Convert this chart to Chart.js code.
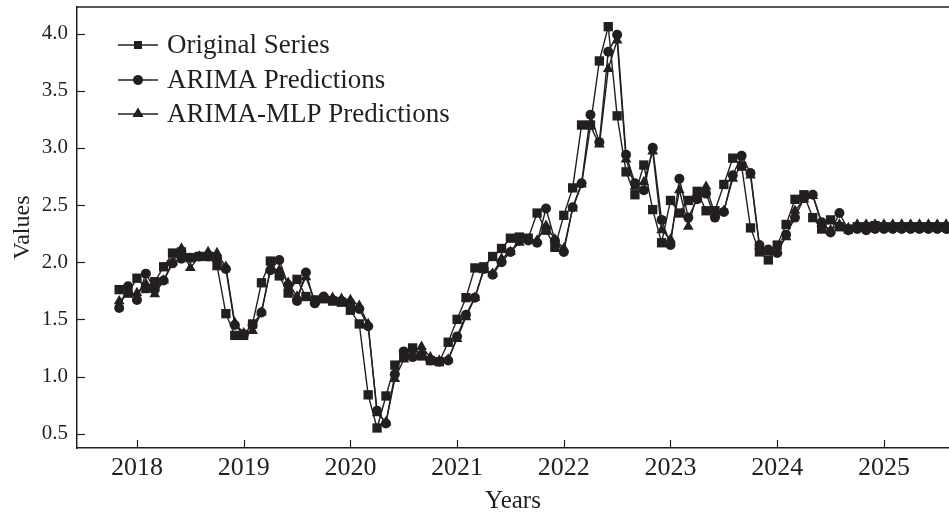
<!DOCTYPE html>
<html>
<head>
<meta charset="utf-8">
<script src="https://cdn.jsdelivr.net/npm/chart.js@4.4.1/dist/chart.umd.min.js"></script>
<style>
  html, body { margin: 0; padding: 0; background: #ffffff; }
  #wrap { width: 949px; height: 516px; position: relative; }
</style>
</head>
<body>
<div id="wrap"><canvas id="chart" width="949" height="516"></canvas></div>
<script>
// Monthly observations, first month November 2017
const firstYear = 2017;
const firstMonth = 11;

const originalSeries = [
  1.76, 1.73, 1.86, 1.77, 1.83, 1.96, 2.08, 2.09, 2.04, 2.05, 2.05, 1.97,
  1.55, 1.36, 1.36, 1.46, 1.82, 2.01, 1.88, 1.73, 1.85, 1.70, 1.67, 1.68,
  1.66, 1.65, 1.58, 1.46, 0.84, 0.55, 0.83, 1.10, 1.17, 1.25, 1.18, 1.14,
  1.13, 1.30, 1.50, 1.69, 1.95, 1.96, 2.05, 2.12, 2.21, 2.22, 2.21, 2.43,
  2.28, 2.13, 2.41, 2.65, 3.20, 3.20, 3.76, 4.06, 3.28, 2.79, 2.59, 2.85,
  2.46, 2.17, 2.54, 2.43, 2.54, 2.62, 2.45, 2.45, 2.68, 2.91, 2.84, 2.30,
  2.09, 2.02, 2.15, 2.33, 2.55, 2.59, 2.39, 2.29, 2.37, 2.31, 2.29, 2.31,
  2.31, 2.32, 2.31, 2.31, 2.31, 2.31, 2.31, 2.31, 2.31, 2.31
];

const arimaPredictions = [
  1.60, 1.79, 1.67, 1.90, 1.76, 1.84, 1.99, 2.03, 2.04, 2.05, 2.05, 2.04,
  1.94, 1.45, 1.37, 1.45, 1.56, 1.93, 2.02, 1.80, 1.66, 1.91, 1.64, 1.70,
  1.67, 1.66, 1.64, 1.59, 1.44, 0.70, 0.59, 1.02, 1.22, 1.17, 1.19, 1.14,
  1.13, 1.14, 1.35, 1.54, 1.69, 1.94, 1.89, 2.00, 2.09, 2.19, 2.19, 2.17,
  2.47, 2.19, 2.09, 2.48, 2.69, 3.29, 3.05, 3.84, 3.99, 2.94, 2.69, 2.63,
  3.00, 2.37, 2.15, 2.73, 2.39, 2.55, 2.60, 2.39, 2.44, 2.76, 2.93, 2.78,
  2.15, 2.11, 2.08, 2.24, 2.39, 2.56, 2.59, 2.35, 2.26, 2.43, 2.28, 2.29,
  2.28, 2.29, 2.29, 2.29, 2.29, 2.29, 2.29, 2.29, 2.29, 2.29
];

const arimaMlpPredictions = [
  1.66, 1.72, 1.73, 1.81, 1.72, 1.84, 2.00, 2.12, 1.95, 2.05, 2.09, 2.08,
  1.96, 1.47, 1.38, 1.40, 1.56, 1.94, 1.93, 1.82, 1.70, 1.87, 1.66, 1.67,
  1.69, 1.68, 1.67, 1.62, 1.46, 0.68, 0.60, 0.98, 1.15, 1.20, 1.26, 1.17,
  1.14, 1.15, 1.33, 1.52, 1.69, 1.93, 1.90, 2.03, 2.09, 2.17, 2.20, 2.19,
  2.32, 2.20, 2.12, 2.47, 2.68, 3.19, 3.03, 3.69, 3.94, 2.90, 2.66, 2.70,
  2.97, 2.28, 2.20, 2.63, 2.31, 2.60, 2.66, 2.42, 2.45, 2.73, 2.85, 2.76,
  2.14, 2.09, 2.10, 2.22, 2.45, 2.55, 2.58, 2.34, 2.28, 2.33, 2.30, 2.33,
  2.33, 2.33, 2.33, 2.33, 2.33, 2.33, 2.33, 2.33, 2.33, 2.33
];

const yearTicks = [2018, 2019, 2020, 2021, 2022, 2023, 2024, 2025];
const valueTicks = [0.5, 1.0, 1.5, 2.0, 2.5, 3.0, 3.5, 4.0];

// month positions on a decimal-year axis
const months = originalSeries.map((_, i) => firstYear + (firstMonth - 1 + i) / 12);
const toPoints = vals => vals.map((v, i) => ({ x: months[i], y: v }));

const ink = '#231f20';
const serif = "'Liberation Serif', 'DejaVu Serif', serif";

const seriesStyle = (label, vals, shape, radius) => ({
  label,
  data: toPoints(vals),
  borderColor: ink,
  backgroundColor: ink,
  borderWidth: 1.4,
  pointStyle: shape,
  pointRadius: radius,
  pointHoverRadius: radius,
  pointBorderWidth: 0,
  pointBackgroundColor: ink,
  tension: 0,
  fill: false
});

// plot frame top edge, inward ticks on both axes, and the in-plot legend
const framePlugin = {
  id: 'framePlugin',
  afterDraw(chart) {
    const { ctx, chartArea: a, scales: { x, y } } = chart;
    ctx.save();
    ctx.strokeStyle = ink;
    ctx.lineWidth = 1.4;
    ctx.beginPath();
    ctx.moveTo(a.left, a.top);
    ctx.lineTo(a.right, a.top);
    ctx.stroke();

    ctx.lineWidth = 1.2;
    yearTicks.forEach(yr => {
      const px = Math.round(x.getPixelForValue(yr)) + 0.5;
      ctx.beginPath();
      ctx.moveTo(px, a.bottom);
      ctx.lineTo(px, a.bottom - 8);
      ctx.stroke();
    });
    valueTicks.forEach(v => {
      const py = Math.round(y.getPixelForValue(v)) + 0.5;
      ctx.beginPath();
      ctx.moveTo(a.left, py);
      ctx.lineTo(a.left + 8, py);
      ctx.stroke();
    });

    // legend
    const rows = [45, 80, 114];
    const shapes = [['rect', 5.6], ['circle', 4.8], ['triangle', 6.2]];
    chart.data.datasets.forEach((ds, k) => {
      const ly = rows[k];
      ctx.strokeStyle = ink;
      ctx.lineWidth = 1.4;
      ctx.beginPath();
      ctx.moveTo(118, ly);
      ctx.lineTo(158, ly);
      ctx.stroke();
      ctx.fillStyle = ink;
      Chart.helpers.drawPoint(ctx, { pointStyle: shapes[k][0], radius: shapes[k][1], borderWidth: 0, rotation: 0 }, 138, ly);
      ctx.fill();
      ctx.font = "27px " + serif;
      ctx.textBaseline = 'middle';
      ctx.textAlign = 'left';
      ctx.fillText(ds.label, 167, ly + 1);
    });
    ctx.restore();
  }
};

new Chart(document.getElementById('chart'), {
  type: 'line',
  data: {
    datasets: [
      seriesStyle('Original Series', originalSeries, 'rect', 6.6),
      seriesStyle('ARIMA Predictions', arimaPredictions, 'circle', 5),
      seriesStyle('ARIMA-MLP Predictions', arimaMlpPredictions, 'triangle', 6.2)
    ]
  },
  options: {
    responsive: false,
    animation: false,
    events: [],
    layout: { autoPadding: false, padding: { top: 7, right: 0, left: 0, bottom: 0 } },
    plugins: { legend: { display: false }, tooltip: { enabled: false } },
    scales: {
      x: {
        type: 'linear',
        min: 2017.438,
        max: 2025.61,
        afterFit: s => { s.height = 68; s.paddingLeft = 0; s.paddingRight = 0; },
        afterBuildTicks: s => { s.ticks = yearTicks.map(v => ({ value: v })); },
        ticks: {
          callback: v => String(v),
          font: { family: serif, size: 26 },
          color: ink,
          padding: 5,
          maxRotation: 0,
          autoSkip: false
        },
        grid: { display: false, drawTicks: false },
        border: { display: true, color: ink, width: 1.5 },
        title: {
          display: true,
          text: 'Years',
          font: { family: serif, size: 25 },
          color: ink,
          padding: { top: 0, bottom: 0 }
        }
      },
      y: {
        type: 'linear',
        min: 0.375,
        max: 4.232,
        afterFit: s => { s.width = 77; s.paddingTop = 0; s.paddingBottom = 0; },
        afterBuildTicks: s => { s.ticks = valueTicks.map(v => ({ value: v })); },
        ticks: {
          callback: v => v.toFixed(1),
          font: { family: serif, size: 21 },
          color: ink,
          padding: 9
        },
        grid: { display: false, drawTicks: false },
        border: { display: true, color: ink, width: 1.5 },
        title: {
          display: true,
          text: 'Values',
          font: { family: serif, size: 24 },
          color: ink,
          padding: { top: 8, bottom: 0 }
        }
      }
    }
  },
  plugins: [framePlugin]
});
</script>
</body>
</html>
